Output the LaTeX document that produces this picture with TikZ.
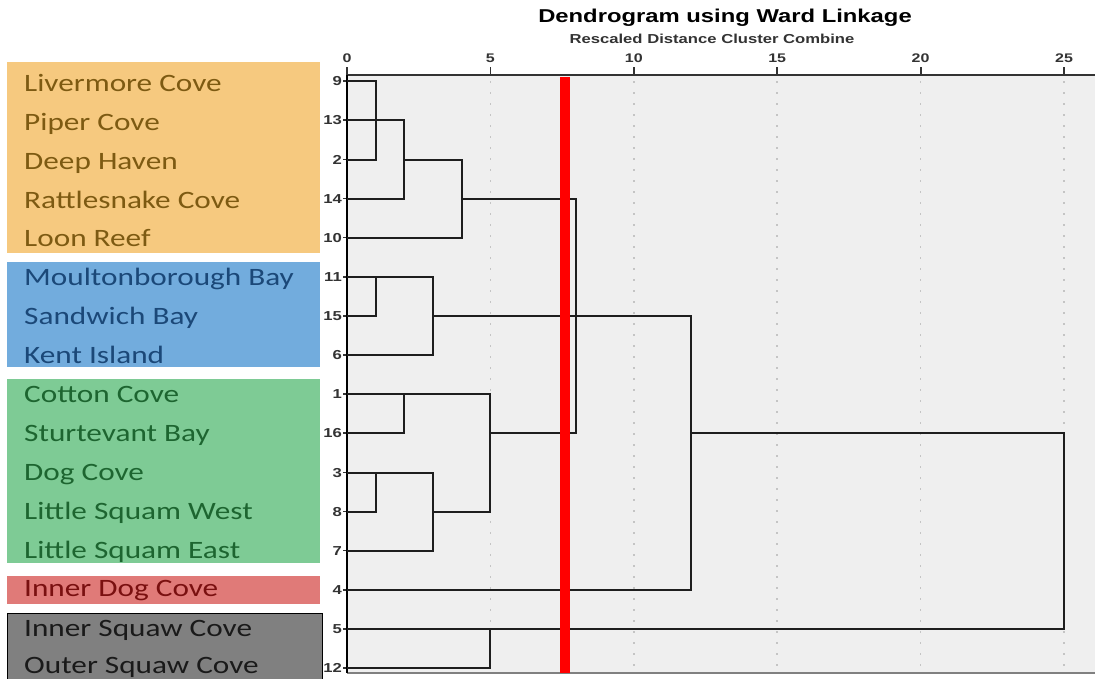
\documentclass[tikz,border=0pt]{standalone}
\usepackage{fontspec}
\newfontfamily\lblfont[FakeStretch=1.25]{Carlito}
\newfontfamily\spss[FakeStretch=1.28]{Liberation Sans}
\definecolor{orbox}{HTML}{F6C97F}
\definecolor{ortext}{HTML}{7D5A12}
\definecolor{blbox}{HTML}{72ACDD}
\definecolor{bltext}{HTML}{1B4878}
\definecolor{grbox}{HTML}{7ECB95}
\definecolor{grtext}{HTML}{1D6530}
\definecolor{rdbox}{HTML}{E07A78}
\definecolor{rdtext}{HTML}{7A1010}
\definecolor{gybox}{HTML}{808080}
\definecolor{gytext}{HTML}{1A1A1A}
\definecolor{plotbg}{HTML}{EFEFEF}
\definecolor{gridgray}{HTML}{C4C4C4}
\definecolor{treeblack}{HTML}{1E1E1E}
\definecolor{numgray}{HTML}{333333}
\begin{document}
\begin{tikzpicture}[x=1pt,y=-1pt,
  grp/.style={anchor=base west,inner sep=0pt,font=\lblfont\fontsize{25}{30}\selectfont},
  leafnum/.style={anchor=base east,inner sep=0pt,text=numgray,font=\spss\bfseries\fontsize{13}{15}\selectfont},
  axisnum/.style={anchor=base,inner sep=0pt,text=numgray,font=\spss\bfseries\fontsize{12.5}{14}\selectfont},
  tree/.style={draw=treeblack,line width=2pt,line join=miter},
  gridline/.style={draw=gridgray,line width=1.6pt,dash pattern=on 1.6pt off 9.4pt},
  axisline/.style={draw=numgray,line width=1.8pt}]
\useasboundingbox (0,0) rectangle (1095,678);
\fill[white] (0,0) rectangle (1095,678);

% group boxes
\fill[orbox] (7,62) rectangle (320,253);
\fill[blbox] (7,262) rectangle (320,367);
\fill[grbox] (7,379) rectangle (320,563);
\fill[rdbox] (7,576) rectangle (320,604);
\filldraw[fill=gybox,draw=black,line width=1pt] (7,613) rectangle (322,680);

% plot area
\coordinate (ptl) at (347,75);
\coordinate (ptr) at (1095,75);
\coordinate (pbl) at (347,673);
\coordinate (pbr) at (1095,673);
\fill[plotbg] (ptl) rectangle (pbr);

% title
\node[anchor=base,inner sep=0pt,font=\spss\bfseries\fontsize{18.6}{22}\selectfont] (title) at (725,22) {Dendrogram using Ward Linkage};
\node[anchor=base,inner sep=0pt,text=numgray,font=\spss\bfseries\fontsize{13}{15}\selectfont] (subtitle) at (712,43) {Rescaled Distance Cluster Combine};

% x positions of distance values
\foreach \v/\px in {0/347,1/375.7,2/404.4,3/433,4/461.7,5/490.4,8/576.4,10/633.8,12/691,15/777.2,20/920.6,25/1064}
  \coordinate (x\v) at (\px,75);

% grid, ticks, labels
\foreach \v in {5,10,15,20,25}
  \draw[gridline] ([yshift=-6pt]x\v) -- (x\v |- pbl);
\foreach \v in {0,5,10,15,20,25}{
  \draw[axisline] ([yshift=8pt]x\v) -- (x\v);
  \node[axisnum] (ax\v) at ([yshift=13pt]x\v) {\v};
}

% leaves
\foreach \n/\yy/\dy/\t/\c in {9/81/10/Livermore Cove/ortext,13/120/10/Piper Cove/ortext,2/159.5/10/Deep Haven/ortext,14/198.5/10/Rattlesnake Cove/ortext,10/237.5/9/Loon Reef/ortext,11/277/8/Moultonborough Bay/bltext,15/316/8/Sandwich Bay/bltext,6/355/8/Kent Island/bltext,1/394/8/Cotton Cove/grtext,16/433/8/Sturtevant Bay/grtext,3/472.5/8/Dog Cove/grtext,8/511.5/8/Little Squam West/grtext,7/550.5/8/Little Squam East/grtext,4/590/6/Inner Dog Cove/rdtext,5/629/7/Inner Squaw Cove/gytext,12/668/5/Outer Squaw Cove/gytext}{
  \coordinate (l\n) at (347,\yy);
  \node[grp,text=\c] (g\n) at (24,\yy+\dy) {\t};
  \node[leafnum] (n\n) at (342,\yy+4.7) {\n};
  \draw[axisline,line width=1.4pt] ([xshift=-4pt]l\n) -- (l\n);
}

% axes
\draw[axisline] (ptl) -- (ptr);
\draw[draw=gray,line width=1.6pt] (pbl) -- (pbr);
\draw[draw=black,line width=1.8pt] (ptl) -- (pbl);

% dendrogram
\draw[tree] (l9) -- (l9-|x1) -- (l2-|x1) -- (l2);
\draw[tree] (l13) -- (l13-|x2) -- (l14-|x2) -- (l14);
\draw[tree] (l2-|x2) -- (l2-|x4) -- (l10-|x4) -- (l10);
\draw[tree] (l14-|x4) -- (l14-|x8) -- (l16-|x8) -- (l16-|x5);
\draw[tree] (l11) -- (l11-|x3) -- (l6-|x3) -- (l6);
\draw[tree] (l11-|x1) -- (l15-|x1) -- (l15);
\draw[tree] (l15-|x3) -- (l15-|x12) -- (l4-|x12) -- (l4);
\draw[tree] (l1) -- (l1-|x5) -- (l8-|x5) -- (l8-|x3);
\draw[tree] (l1-|x2) -- (l16-|x2) -- (l16);
\draw[tree] (l3) -- (l3-|x3) -- (l7-|x3) -- (l7);
\draw[tree] (l3-|x1) -- (l8-|x1) -- (l8);
\draw[tree] (l16-|x12) -- (l16-|x25) -- (l5-|x25) -- (l5);
\draw[tree] (l12) -- (l12-|x5) -- (l5-|x5);

% cut line
\fill[red] (560,77) rectangle (570,673);
\end{tikzpicture}
\end{document}
